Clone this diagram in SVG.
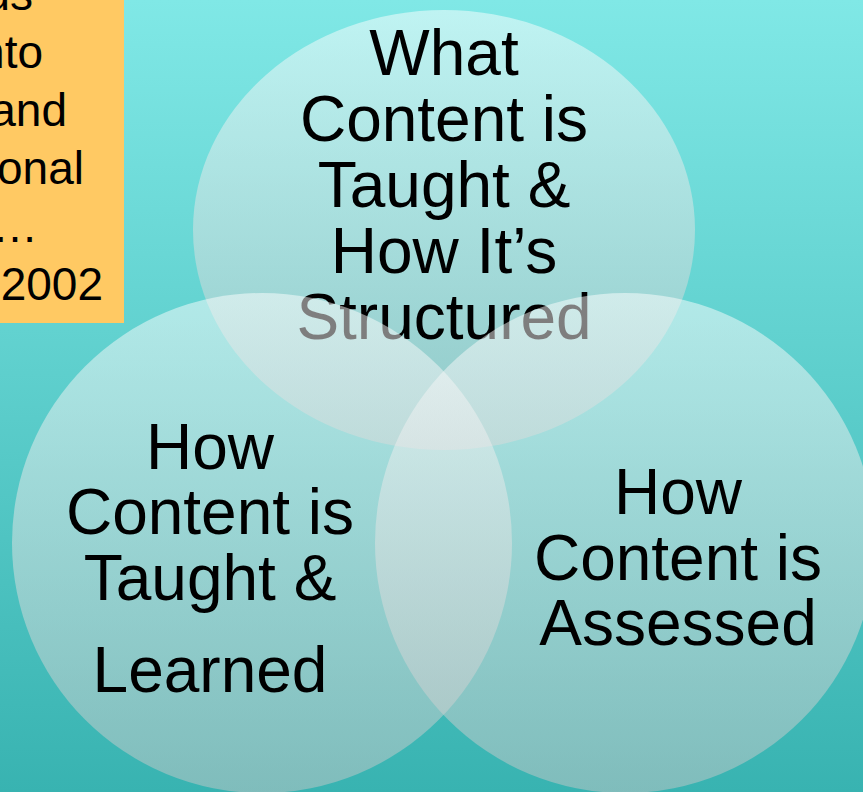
<svg xmlns="http://www.w3.org/2000/svg" width="863" height="792" viewBox="0 0 863 792">
  <defs>
    <linearGradient id="bg" x1="0" y1="0" x2="0" y2="1">
      <stop offset="0" stop-color="#80E8E6"/>
      <stop offset="1" stop-color="#38B3B1"/>
    </linearGradient>
    <linearGradient id="bubble" x1="0" y1="0" x2="0" y2="1">
      <stop offset="0" stop-color="#FFFFFF"/>
      <stop offset="1" stop-color="#C6C6C6"/>
    </linearGradient>
    <style>
      .circle { fill: url(#bubble); fill-opacity: 0.5; }
      .label { font-family: "Liberation Sans", Arial, sans-serif; font-size: 64px; fill: #000; text-anchor: middle; }
      .note { font-family: "Liberation Sans", Arial, sans-serif; font-size: 46px; fill: #000; text-anchor: end; }
    </style>
  </defs>

  <!-- background -->
  <rect x="0" y="0" width="863" height="792" fill="url(#bg)"/>

  <!-- orange note box, text running off the left edge -->
  <g id="note">
    <rect x="0" y="0" width="124" height="323" fill="#FFC963"/>
    <text class="note" x="33" y="10">us</text>
    <text class="note" x="43" y="68">nto</text>
    <text class="note" x="67" y="126">and</text>
    <text class="note" x="84" y="184">onal</text>
    <text class="note" x="38" y="242">…</text>
    <text class="note" x="103" y="300">2002</text>
  </g>

  <!-- top set -->
  <g id="structured">
    <ellipse class="circle" cx="444" cy="230" rx="251" ry="220"/>
    <text class="label" x="444" y="75">What</text>
    <text class="label" x="444" y="141">Content is</text>
    <text class="label" x="444" y="207">Taught &amp;</text>
    <text class="label" x="444" y="273">How It’s</text>
    <text class="label" x="444" y="339">Structured</text>
  </g>

  <!-- lower left set -->
  <g id="taught">
    <ellipse class="circle" cx="262" cy="543" rx="250" ry="250"/>
    <text class="label" x="210" y="469">How</text>
    <text class="label" x="210" y="534">Content is</text>
    <text class="label" x="210" y="600">Taught &amp;</text>
    <text class="label" x="210" y="692">Learned</text>
  </g>

  <!-- lower right set -->
  <g id="assessed">
    <ellipse class="circle" cx="625" cy="543" rx="250" ry="250"/>
    <text class="label" x="678" y="514">How</text>
    <text class="label" x="678" y="580">Content is</text>
    <text class="label" x="678" y="645">Assessed</text>
  </g>

  <!-- no connectors in this diagram -->
  <g id="connectors"/>
</svg>
